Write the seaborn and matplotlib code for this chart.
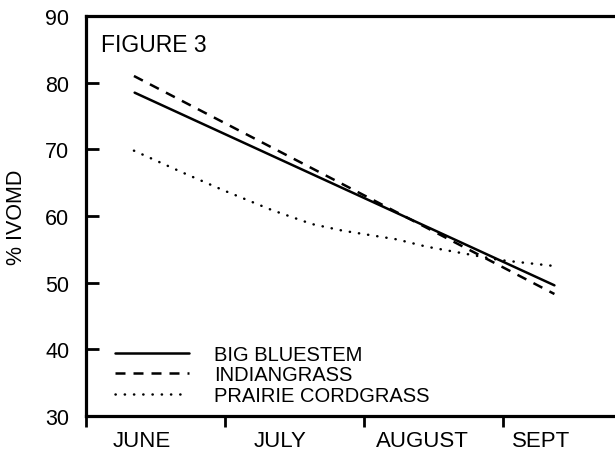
import matplotlib
matplotlib.use("Agg")
import matplotlib.pyplot as plt
from matplotlib.lines import Line2D
import seaborn as sns
import pandas as pd

# ---- data ----
months = ["JUNE", "JULY", "AUGUST", "SEPT"]
month_label_pos = [-0.098, 0.894, 1.921, 2.776]
month_bounds = [-0.5, 0.5, 1.5, 2.5, 3.5]

big_bluestem_x = [-0.15, 2.87]
big_bluestem_y = [78.5, 49.6]

indiangrass_x = [-0.155, 2.87]
indiangrass_y = [81.0, 48.3]

cordgrass_x = [-0.155, 0.197, 0.484, 0.836, 1.124, 1.346, 1.734, 1.950, 2.187, 2.474, 2.869]
cordgrass_y = [69.8, 66.5, 63.9, 60.9, 58.8, 57.8, 56.5, 55.4, 54.5, 53.4, 52.5]

series_names = ["BIG BLUESTEM", "INDIANGRASS", "PRAIRIE CORDGRASS"]
yticks = [30, 40, 50, 60, 70, 80, 90]

sns.set_style("ticks")
plt.rcParams["font.family"] = ["Liberation Sans", "DejaVu Sans"]
plt.rcParams["text.color"] = "black"
plt.rcParams["axes.labelcolor"] = "black"
plt.rcParams["xtick.color"] = "black"
plt.rcParams["ytick.color"] = "black"

fig = plt.figure(figsize=(6.15, 4.52), dpi=100)
ax = fig.add_axes([86 / 615, 35 / 452, (642 - 86) / 615, 400 / 452])

lw = 1.8
dash_style = (0, (4, 3.2))
dot_style = (0, (0.1, 3.6))
df_bb = pd.DataFrame({"x": big_bluestem_x, "y": big_bluestem_y})
df_ig = pd.DataFrame({"x": indiangrass_x, "y": indiangrass_y})
df_pc = pd.DataFrame({"x": cordgrass_x, "y": cordgrass_y})

sns.lineplot(data=df_bb, x="x", y="y", ax=ax, color="black", lw=lw, sort=False)
sns.lineplot(data=df_ig, x="x", y="y", ax=ax, color="black", lw=lw, sort=False,
             linestyle=dash_style)
sns.lineplot(data=df_pc, x="x", y="y", ax=ax, color="black", lw=lw, sort=False,
             linestyle=dot_style, dash_capstyle="round")

ax.set_xlim(month_bounds[0], month_bounds[-1])
ax.set_ylim(yticks[0], yticks[-1])
ax.set_yticks(yticks)
ax.set_yticklabels([str(t) for t in yticks], fontsize=15.5)
ax.tick_params(axis="y", direction="in", length=9, width=2, pad=12, colors="black")

ax.set_xticks(month_label_pos)
ax.set_xticklabels(months, fontsize=16)
ax.set_xticks(month_bounds, minor=True)
ax.tick_params(axis="x", which="major", length=0, pad=10, colors="black")
ax.tick_params(axis="x", which="minor", direction="out", length=8, width=2, colors="black")

for s in ["left", "bottom", "top"]:
    ax.spines[s].set_linewidth(2.3)
    ax.spines[s].set_color("black")
ax.spines["right"].set_visible(False)

ax.set_xlabel("")
ax.set_ylabel("% IVOMD", fontsize=15.5, labelpad=13, color="black")

ax.text(0.027, 0.957, "FIGURE 3", transform=ax.transAxes, fontsize=16.5,
        ha="left", va="top", color="black")

handles = [
    Line2D([], [], color="black", lw=lw),
    Line2D([], [], color="black", lw=lw, linestyle=dash_style),
    Line2D([], [], color="black", lw=lw, linestyle=dot_style, dash_capstyle="round"),
]
leg = ax.legend(handles, series_names, loc="lower left",
                bbox_to_anchor=(115 / 615, 46 / 452), bbox_transform=fig.transFigure,
                frameon=False, fontsize=14.5, handlelength=3.65, handletextpad=1.25,
                labelspacing=0.08, borderpad=0, borderaxespad=0)
for t in leg.get_texts():
    t.set_color("black")

fig.savefig("out.png", dpi=100)
